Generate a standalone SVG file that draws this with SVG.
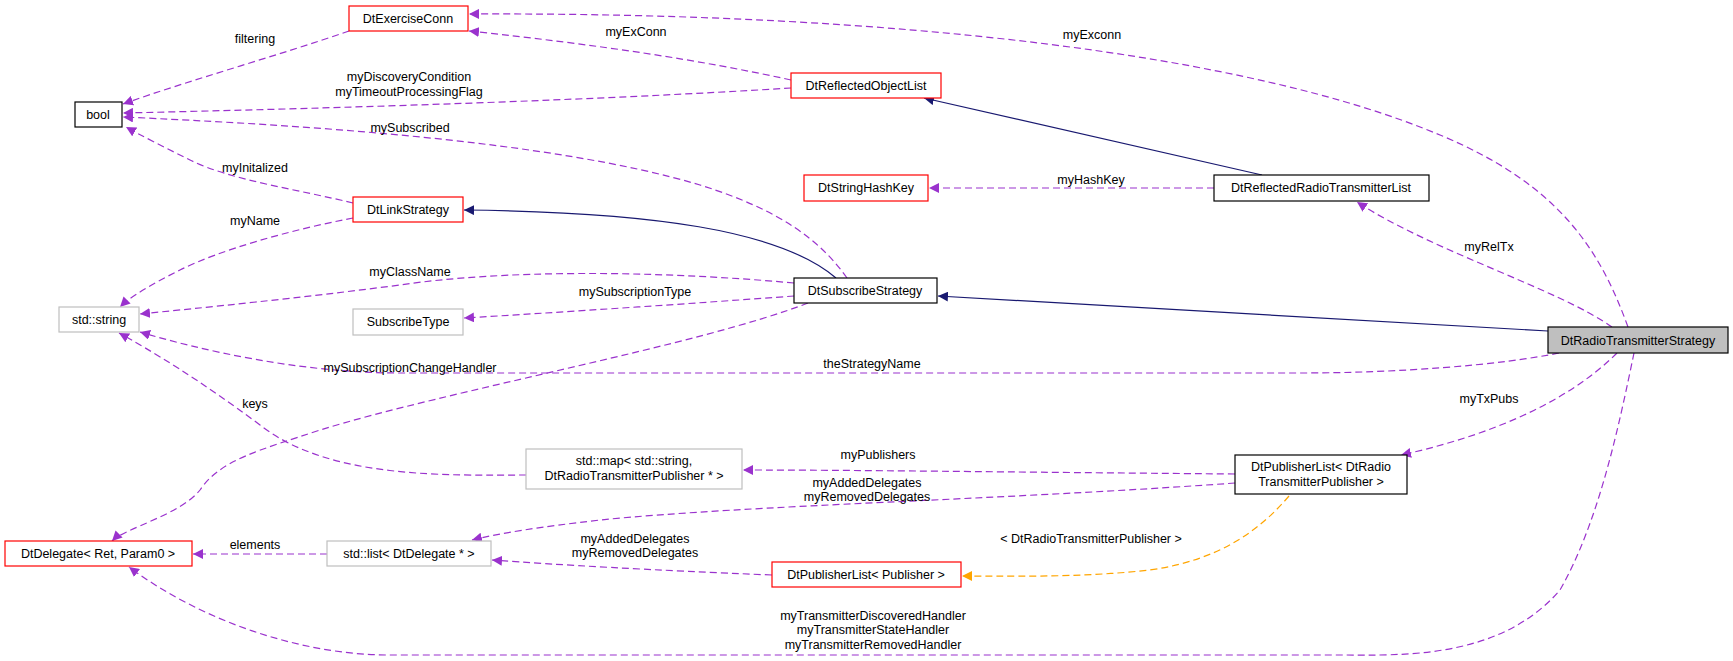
<svg xmlns="http://www.w3.org/2000/svg" width="1733" height="661" viewBox="0 0 1733 661">
<style>
.n rect{fill:#fff;stroke-width:1.2}
.blk rect{stroke:#000}
.red rect{stroke:#ff0000}
.gry rect{stroke:#bfbfbf}
text{font-family:"Liberation Sans",Arial,sans-serif;font-size:12.5px;fill:#000;text-anchor:middle}
.e path{fill:none;stroke-width:1.2}
.p{stroke:#9a32cd;stroke-dasharray:7,4;marker-end:url(#mp)}
.b{stroke:#191970;marker-end:url(#mb)}
.o{stroke:#ffa500;stroke-dasharray:7,4;marker-end:url(#mo)}
</style>
<defs>
<marker id="mp" viewBox="0 0 10 10" refX="10" refY="5" markerWidth="10" markerHeight="10" markerUnits="userSpaceOnUse" orient="auto"><path d="M0,0L10,5L0,10z" fill="#9a32cd"/></marker>
<marker id="mb" viewBox="0 0 10 10" refX="10" refY="5" markerWidth="10" markerHeight="10" markerUnits="userSpaceOnUse" orient="auto"><path d="M0,0L10,5L0,10z" fill="#191970"/></marker>
<marker id="mo" viewBox="0 0 10 10" refX="10" refY="5" markerWidth="10" markerHeight="10" markerUnits="userSpaceOnUse" orient="auto"><path d="M0,0L10,5L0,10z" fill="#ffa500"/></marker>
</defs>
<rect width="1733" height="661" fill="#fff"/>
<g class="e" id="edges">
<path class="p" d="M1628,327 C1600,250 1560,185 1440,135 C1250,55 900,12 469,14"/>
<path class="p" d="M791,80 C700,60 600,45 469,31"/>
<path class="p" d="M349,31 C280,55 190,80 123,104"/>
<path class="p" d="M791,88 C600,100 350,108 123,113"/>
<path class="p" d="M847,278 C820,240 780,210 700,185 C550,140 300,125 123,117"/>
<path class="p" d="M353,203 C300,190 230,180 190,160 C160,145 140,135 126,127"/>
<path class="p" d="M353,218 C290,230 220,250 180,270 C150,285 130,297 120,307"/>
<path class="b" d="M836,278 C780,230 650,212 464,210"/>
<path class="b" d="M1262,175 L924,98"/>
<path class="p" d="M1214,188 L929,188"/>
<path class="p" d="M1612,327 C1560,290 1430,250 1357,202"/>
<path class="b" d="M1548,331 L938,296"/>
<path class="p" d="M794,283 C650,270 500,270 400,285 C300,298 200,308 140,314"/>
<path class="p" d="M794,296 C700,303 550,313 464,318"/>
<path class="p" d="M1559,353 C1500,365 1400,373 1300,373 L400,373 C300,373 200,350 140,332"/>
<path class="p" d="M808,303 C700,345 450,390 320,430 C260,450 220,460 200,490 C180,515 125,528 112,541"/>
<path class="p" d="M526,475 C450,475 330,480 260,425 C200,380 150,350 119,333"/>
<path class="p" d="M1235,474 C1000,472 850,470 743,470"/>
<path class="p" d="M1235,483 C1000,500 750,505 600,520 C540,527 500,533 472,540"/>
<path class="p" d="M772,575 C650,570 560,565 492,560"/>
<path class="p" d="M327,554 L193,554"/>
<path class="o" d="M1289,496 C1260,530 1220,560 1150,570 C1080,578 1000,576 962,576"/>
<path class="p" d="M1617,353 C1560,410 1470,440 1401,455"/>
<path class="p" d="M1634,353 C1620,420 1600,520 1560,590 C1500,660 1400,655 1342,655 L389,655 C300,655 200,620 129,567"/>
</g>
<g id="edge-labels">
<text x="1092" y="39">myExconn</text>
<text x="636" y="36">myExConn</text>
<text x="255" y="43">filtering</text>
<text x="409" y="81">myDiscoveryCondition</text>
<text x="409" y="96">myTimeoutProcessingFlag</text>
<text x="410" y="132">mySubscribed</text>
<text x="255" y="172">myInitalized</text>
<text x="255" y="225">myName</text>
<text x="1091" y="184">myHashKey</text>
<text x="1489" y="251">myRelTx</text>
<text x="410" y="276">myClassName</text>
<text x="635" y="296">mySubscriptionType</text>
<text x="872" y="368">theStrategyName</text>
<text x="410" y="372">mySubscriptionChangeHandler</text>
<text x="255" y="408">keys</text>
<text x="878" y="459">myPublishers</text>
<text x="867" y="487">myAddedDelegates</text>
<text x="867" y="501">myRemovedDelegates</text>
<text x="635" y="543">myAddedDelegates</text>
<text x="635" y="557">myRemovedDelegates</text>
<text x="255" y="549">elements</text>
<text x="1091" y="543">&lt; DtRadioTransmitterPublisher &gt;</text>
<text x="1489" y="403">myTxPubs</text>
<text x="873" y="620">myTransmitterDiscoveredHandler</text>
<text x="873" y="634">myTransmitterStateHandler</text>
<text x="873" y="649">myTransmitterRemovedHandler</text>
</g>
<g id="DtRadioTransmitterStrategy" class="n blk"><rect x="1548" y="327" width="180" height="26" style="fill:#bfbfbf"/><text x="1638" y="345">DtRadioTransmitterStrategy</text></g>
<g id="DtExerciseConn" class="n red"><rect x="349" y="6" width="119" height="25"/><text x="408" y="23">DtExerciseConn</text></g>
<g id="bool" class="n blk"><rect x="75" y="102" width="47" height="25"/><text x="98" y="119">bool</text></g>
<g id="DtReflectedObjectList" class="n red"><rect x="791" y="73" width="150" height="25"/><text x="866" y="90">DtReflectedObjectList</text></g>
<g id="DtStringHashKey" class="n red"><rect x="804" y="175" width="124" height="26"/><text x="866" y="192">DtStringHashKey</text></g>
<g id="DtLinkStrategy" class="n red"><rect x="353" y="197" width="110" height="25"/><text x="408" y="214">DtLinkStrategy</text></g>
<g id="DtSubscribeStrategy" class="n blk"><rect x="794" y="278" width="143" height="25"/><text x="865" y="295">DtSubscribeStrategy</text></g>
<g id="std_string" class="n gry"><rect x="59" y="307" width="80" height="25"/><text x="99" y="324">std::string</text></g>
<g id="SubscribeType" class="n gry"><rect x="353" y="309" width="110" height="26"/><text x="408" y="326">SubscribeType</text></g>
<g id="DtReflectedRadioTransmitterList" class="n blk"><rect x="1214" y="175" width="215" height="26"/><text x="1321" y="192">DtReflectedRadioTransmitterList</text></g>
<g id="DtPublisherList_Radio" class="n blk"><rect x="1235" y="455" width="172" height="39"/><text x="1321" y="471">DtPublisherList&lt; DtRadio</text><text x="1321" y="486">TransmitterPublisher &gt;</text></g>
<g id="std_map" class="n gry"><rect x="526" y="449" width="216" height="40"/><text x="634" y="465">std::map&lt; std::string,</text><text x="634" y="480">DtRadioTransmitterPublisher * &gt;</text></g>
<g id="DtPublisherList_Publisher" class="n red"><rect x="772" y="562" width="189" height="25"/><text x="866" y="579">DtPublisherList&lt; Publisher &gt;</text></g>
<g id="std_list" class="n gry"><rect x="327" y="541" width="164" height="25"/><text x="409" y="558">std::list&lt; DtDelegate * &gt;</text></g>
<g id="DtDelegate" class="n red"><rect x="5" y="541" width="187" height="25"/><text x="98" y="558">DtDelegate&lt; Ret, Param0 &gt;</text></g>
</svg>
